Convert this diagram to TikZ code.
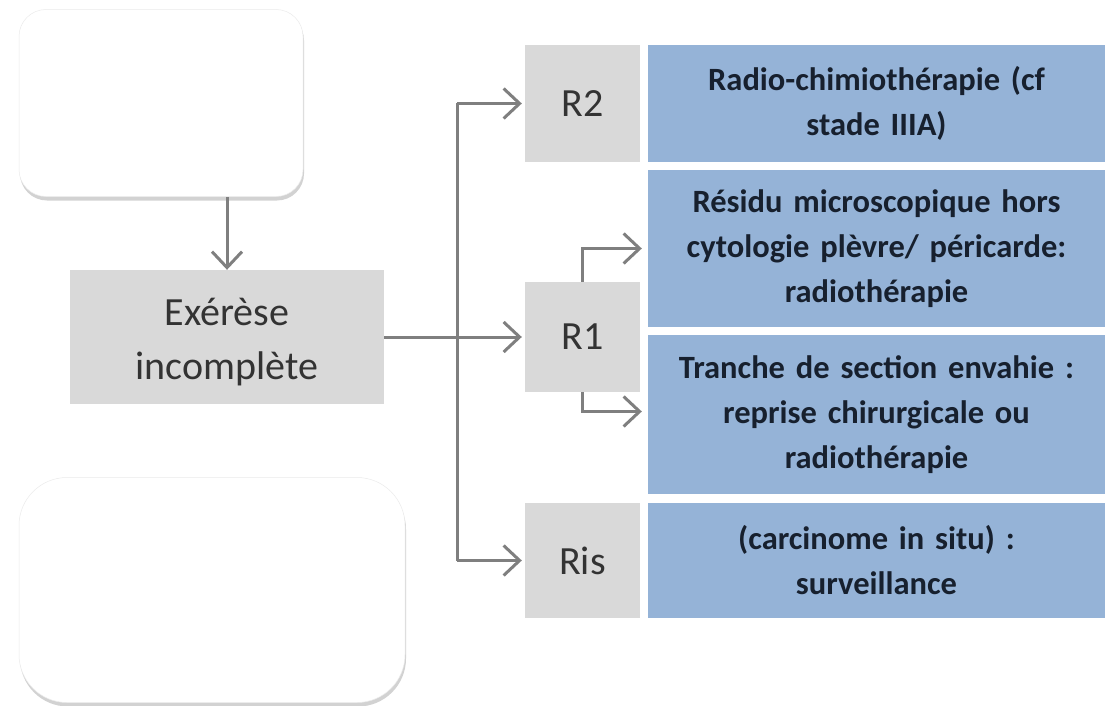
\documentclass[tikz,border=0pt]{standalone}
\usepackage{fontspec}
\setmainfont{Carlito}
\usetikzlibrary{arrows.meta,shadows}
\definecolor{boxgray}{HTML}{D9D9D9}
\definecolor{boxblue}{HTML}{95B3D7}
\definecolor{linegray}{HTML}{7F7F7F}
\definecolor{textgray}{HTML}{333333}
\definecolor{textnavy}{HTML}{17202E}
\tikzset{
  whitebox/.style={draw=white!92!black, line width=0.5pt, fill=white, rectangle,
    drop shadow={shadow xshift=1pt, shadow yshift=-4pt, opacity=0.35, fill=gray}},
  graybox/.style={fill=boxgray, rectangle, inner sep=0pt, text=textgray,
    font=\fontsize{40}{54}\selectfont, align=center},
  bluebox/.style={fill=boxblue, rectangle, inner sep=0pt, text=textnavy,
    font=\bfseries\fontsize{32.5}{45}\selectfont, align=center, text width=450pt,
    minimum width=457pt},
  conn/.style={draw=linegray, line width=3pt},
  arr/.style={conn, -{Straight Barb[length=16pt,width=30pt,line width=3pt]}}
}
\begin{document}
\begin{tikzpicture}[x=1pt,y=-1pt]
\useasboundingbox[fill=white] (0,0) rectangle (1108,706);
% white boxes
\node[whitebox, minimum width=284pt, minimum height=187pt, rounded corners=27pt] (top) at (161,103) {};
\node[whitebox, minimum width=386pt, minimum height=225pt, rounded corners=48pt] (bottom) at (212,590) {};
% gray boxes
\node[graybox, minimum width=314pt, minimum height=134pt] (exer) at (227,337) {};
\node[graybox, fill=none] (exertxt) at (227,342) {Exérèse\\incomplète};
\node[graybox, minimum width=115pt, minimum height=117pt] (R2) at (582.5,103.5) {R2};
\node[graybox, minimum width=115pt, minimum height=110pt] (R1) at (582.5,337) {R1};
\node[graybox, minimum width=115pt, minimum height=115pt] (Ris) at (582.5,560.5) {Ris};
% blue boxes
\node[bluebox, minimum height=117pt] (B1) at (876.5,103.5) {Radio-chimiothérapie (cf\\stade IIIA)};
\node[bluebox, minimum height=157pt] (B2) at (876.5,248.5) {Résidu microscopique hors\\cytologie plèvre/ péricarde:\\radiothérapie};
\node[bluebox, minimum height=159pt] (B3) at (876.5,414.5) {Tranche de section envahie :\\reprise chirurgicale ou\\radiothérapie};
\node[bluebox, minimum height=115pt] (B4) at (876.5,560.5) {(carcinome in situ) :\\surveillance};
% connectors
\draw[arr] (exer.north |- top.south) -- (exer.north);
\coordinate (J) at (457,337);
\draw[conn] (exer.east) -- (J);
\draw[conn] (J |- R2.west) -- (J |- Ris.west);
\draw[arr, shorten >=3pt] (J |- R2.west) -- (R2.west);
\draw[arr, shorten >=3pt] (J) -- (R1.west);
\draw[arr, shorten >=3pt] (J |- Ris.west) -- (Ris.west);
\draw[arr, shorten >=6pt] (R1.north) |- (B2.west);
\draw[arr, shorten >=6pt] (R1.south) |- ([yshift=3pt]B3.west);
\end{tikzpicture}
\end{document}
